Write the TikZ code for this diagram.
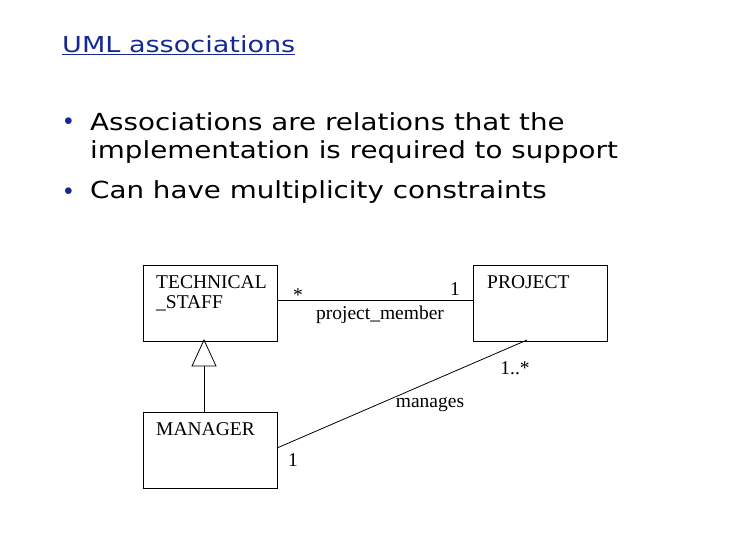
\documentclass[tikz,border=0pt]{standalone}
\usepackage{fontspec}
\setmainfont{Liberation Serif}
\newfontfamily\slidefont{DejaVu Sans}
\definecolor{navy}{RGB}{20,40,150}
\begin{document}
\begin{tikzpicture}[x=1pt,y=-1pt,
  cls/.style={draw,line width=0.8pt,minimum width=134pt,minimum height=76pt,anchor=north west,inner sep=0},
  lab/.style={font=\fontsize{19.5}{19.5}\selectfont,inner sep=0},
  blt/.style={font=\slidefont\fontsize{23.5}{23.5}\selectfont,anchor=west,inner sep=0,xscale=1.18}]
\useasboundingbox (0,0) rectangle (730,547);
\node[anchor=west,inner sep=0,text=navy,font=\slidefont\fontsize{22}{22}\selectfont,xscale=1.23] (title) at (62,45) {\underline{UML associations}};
\node[anchor=west,text=navy,inner sep=0] (b1) at (64,122) {\fontsize{16}{16}\selectfont$\bullet$};
\node[blt] (t1) at (90,122) {Associations are relations that the};
\node[blt] (t2) at (90,152) {implementation is required to support};
\node[anchor=west,text=navy,inner sep=0] (b2) at (64,192) {\fontsize{16}{16}\selectfont$\bullet$};
\node[blt] (t3) at (90,192) {Can have multiplicity constraints};
\node[cls] (ts) at (143,265) {};
\node[cls] (pr) at (473,265) {};
\node[cls] (mg) at (143,412) {};
\node[lab,anchor=north west,align=left] (tst) at (156,275) {TECHNICAL\\[1pt]\_STAFF};
\node[lab,anchor=north west] (prt) at (487,275) {PROJECT};
\node[lab,anchor=north west] (mgt) at (156,422) {MANAGER};
\draw[line width=0.8pt] (ts.east |- 0,300) -- (pr.west |- 0,300);
\coordinate (tri) at (204,366);
\draw[line width=0.8pt] (204,340) -- (216,366) -- (192,366) -- cycle;
\draw[line width=0.8pt] (tri) -- (mg.north -| tri);
\coordinate (pe) at (527,340);
\coordinate (me) at (277,448);
\draw[line width=0.8pt] (me) -- (pe);
\node[lab] (m1) at (298,295) {*};
\node[lab] (m2) at (455,289) {1};
\node[lab] (pm) at (380,315) {project\_member};
\node[lab] (m3) at (515,368) {1..*};
\node[lab,fill=white,inner sep=1pt] (mn) at (430,405) {manages};
\node[lab] (m4) at (293,460) {1};
\end{tikzpicture}
\end{document}
